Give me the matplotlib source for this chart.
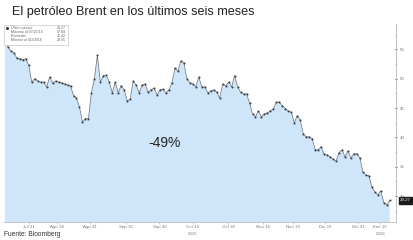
import matplotlib
matplotlib.use("Agg")
import matplotlib.pyplot as plt
from matplotlib.patches import Rectangle
from matplotlib.ticker import MultipleLocator

plt.rcParams['font.family'] = ['Liberation Sans', 'DejaVu Sans']

# Brent daily close (USD), 21 Jul 2015 - 20 Jan 2016
prices = [
    57.0, 55.4, 54.7, 54.4, 53.5, 53.4, 53.2, 53.4, 52.3, 49.4,
    50.0, 49.6, 49.4, 49.4, 48.6, 50.3, 49.3, 49.6, 49.4, 49.3,
    49.1, 48.9, 48.8, 47.1, 46.7, 45.2, 42.6, 43.2, 43.2, 47.6,
    50.0, 54.0, 49.4, 50.5, 50.6, 49.4, 47.6, 49.4, 47.6, 48.8,
    48.1, 46.2, 46.5, 49.6, 48.9, 47.6, 48.9, 49.1, 47.7, 48.1,
    48.4, 47.2, 48.1, 48.2, 47.6, 48.1, 49.3, 51.8, 51.3, 53.0,
    52.7, 50.0, 49.3, 49.1, 48.6, 50.3, 48.6, 48.6, 47.6, 47.9,
    48.1, 47.7, 46.7, 49.1, 48.8, 49.4, 48.6, 50.5, 48.6, 47.7,
    47.4, 47.4, 45.9, 44.0, 43.5, 44.5, 43.5, 44.0, 44.2, 44.5,
    44.9, 46.0, 46.0, 45.4, 44.9, 44.5, 44.3, 42.5, 43.7, 43.0,
    40.6, 40.1, 40.1, 39.8, 37.9, 37.9, 38.4, 37.2, 37.0, 36.7,
    36.3, 36.0, 37.4, 37.9, 36.7, 37.7, 36.5, 37.2, 37.2, 36.5,
    34.1, 33.6, 33.5, 31.6, 30.7, 30.2, 30.9, 28.9, 28.55, 29.27,
]
days = list(range(len(prices)))

tick_days = [8, 17.4, 28.4, 40.5, 51.8, 62.9, 74.9, 86.6, 96.7, 107.4, 118.4, 125.8]
tick_labels = ["Jul 31", "Ago 14", "Ago 31", "Sep 15", "Sep 30", "Oct 15",
               "Oct 30", "Nov 16", "Nov 30", "Dic 15", "Dic 31", "Ene 15"]
year_days = [62.9, 125.8]
year_labels = ["2015", "2016"]
y_ticks = [30, 35, 40, 45, 50, 55]

legend_names = ["Último precio", "Máximo al 07/21/15", "Promedio", "Mínimo al 01/18/16"]
legend_values = ["29.27", "57.04", "45.42", "28.55"]
last_price = 29.27

fig = plt.figure(figsize=(4.14, 2.40), dpi=100)
fig.patch.set_facecolor("white")
ax = fig.add_axes([4/414, 1-222/240, 392/414, 198/240])

ax.fill_between(days, prices, 0, color="#cfe5fa", lw=0)
ax.plot(days, prices, color="#6a7078", lw=0.5, marker="s", ms=0.9,
        mec="#33383d", mfc="#33383d", mew=0.3)

ax.set_xlim(-0.3, 131.1)
ax.set_ylim(25.6, 59.3)

for s in ["top", "left"]:
    ax.spines[s].set_visible(False)
ax.spines["right"].set_color("#b8b8b8")
ax.spines["right"].set_linewidth(0.6)
ax.spines["bottom"].set_color("#b8b8b8")
ax.spines["bottom"].set_linewidth(0.6)

ax.yaxis.tick_right()
ax.set_yticks(y_ticks)
ax.set_yticklabels([str(v) for v in y_ticks])
ax.yaxis.set_minor_locator(MultipleLocator(2.5))
ax.tick_params(axis="y", which="major", labelsize=3.2, labelcolor="#777777",
               length=2, width=0.6, color="#333333", pad=1.5, direction="inout")
ax.tick_params(axis="y", which="minor", length=1.2, width=0.4, color="#aaaaaa",
               direction="inout")

ax.set_xticks(tick_days)
ax.set_xticklabels(tick_labels)
ax.tick_params(axis="x", labelsize=3.2, labelcolor="#777777", length=1.5,
               width=0.4, color="#999999", pad=0.8)
for d, lab in zip(year_days, year_labels):
    ax.text(d, -0.05, lab, transform=ax.get_xaxis_transform(), ha="center",
            va="top", fontsize=3.2, color="#777777")

# last price box
ax.annotate(f"{last_price:.2f}", xy=(1.0, last_price),
            xycoords=ax.get_yaxis_transform(), xytext=(3, 0),
            textcoords="offset points", ha="left", va="center",
            fontsize=3.2, color="white",
            bbox=dict(boxstyle="square,pad=0.25", fc="#1a1a1a", ec="#1a1a1a"))

# legend box
ax.add_patch(Rectangle((0.0, 0.895), 0.163, 0.10, transform=ax.transAxes,
                       fc="white", ec="#c8c8c8", lw=0.5, zorder=5))
for i, (n, v) in enumerate(zip(legend_names, legend_values)):
    yy = 0.982 - i * 0.021
    ax.text(0.018, yy, n, transform=ax.transAxes, fontsize=2.6, color="#666666",
            va="center", ha="left", zorder=6)
    ax.text(0.158, yy, v, transform=ax.transAxes, fontsize=2.6, color="#666666",
            va="center", ha="right", zorder=6)
ax.plot([0.008], [0.982], transform=ax.transAxes, marker="s", ms=1.0,
        color="#2b2f33", zorder=6)

ax.text(0.41, 0.40, "-49%", transform=ax.transAxes, fontsize=10,
        color="#222222", ha="center", va="center")

fig.text(12/414, 1-12/240, "El petróleo Brent en los últimos seis meses",
         fontsize=9.1, color="#222222", ha="left", va="center")
fig.text(4/414, 1-235/240, "Fuente: Bloomberg", fontsize=4.8,
         color="#333333", ha="left", va="center")

fig.savefig("out.png", dpi=100, facecolor="white")
